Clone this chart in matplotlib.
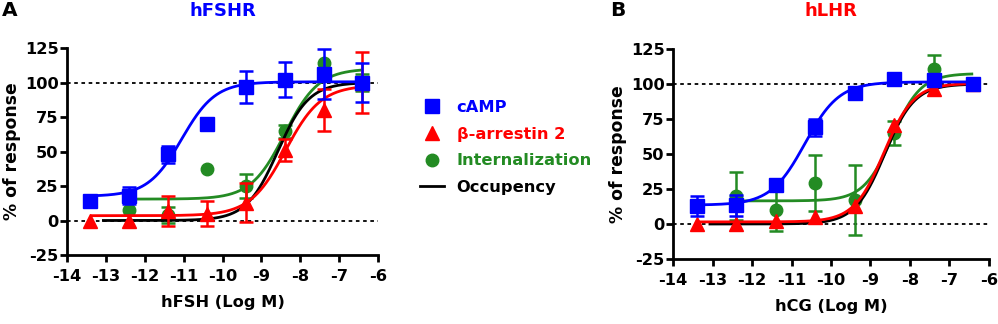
import numpy as np
import matplotlib
matplotlib.use('Agg')
from matplotlib import pyplot as plt
from matplotlib.lines import Line2D

plt.rcParams['font.family'] = ['DejaVu Sans']
plt.rcParams['font.weight'] = 'bold'
plt.rcParams['axes.labelweight'] = 'bold'
plt.rcParams['axes.unicode_minus'] = False

FS = 11.7
BLUE = '#0000FF'
RED = '#FF0000'
GREEN = '#238B23'

# concentrations (log M)
dose = [-13.4, -12.4, -11.4, -10.4, -9.4, -8.4, -7.4, -6.4]
dose_int_a = [-12.4, -11.4, -10.4, -9.4, -8.4, -7.4, -6.4]
dose_int_b = [-12.4, -11.4, -10.4, -9.4, -8.4, -7.4]

# panel A : hFSHR
camp_a = [14, 18, 48, 70, 97, 102, 106, 100]
camp_a_err = [0, 6, 6, 0, 11.5, 12.5, 18, 14]
arr_a = [0, 0, 7, 5, 13, 51, 80, 100]
arr_a_err = [0, 0, 11, 9, 14, 8, 15, 22]
int_a = [7.5, 4, 37.5, 25, 64.5, 114, 100]
int_a_err = [0, 6, 0, 9, 5, 0, 6]

# panel B : hLHR
camp_b = [13, 13.5, 28, 69, 93.5, 103.5, 103, 100]
camp_b_err = [7, 7.5, 0, 6, 4, 0, 3, 0]
arr_b = [0, 0, 2.5, 5, 13, 71, 96.5, 100]
arr_b_err = [0, 0, 0, 0, 0, 0, 0, 0]
int_b = [20, 10, 29.5, 17, 65, 111]
int_b_err = [17, 15, 20, 25, 8.5, 10]

# fitted curves: bottom, top, logEC50, hill, x start, x end
fit_a = {
    'int': (15.5, 110, -8.4, 1.0, -12.4, -6.4),
    'occ': (0, 100, -8.58, 1.08, -13.1, -6.4),
    'arr': (3.5, 98, -8.38, 0.95, -13.4, -6.4),
    'camp': (17.5, 100.5, -11.05, 1.0, -13.4, -6.4),
}
fit_b = {
    'int': (16.5, 107.5, -8.45, 1.2, -12.4, -6.4),
    'occ': (0, 100, -8.64, 1.15, -13.1, -6.4),
    'arr': (1.5, 100.5, -8.66, 1.15, -13.4, -6.4),
    'camp': (13.5, 101.5, -10.66, 1.0, -13.4, -6.4),
}

colors = {'camp': BLUE, 'arr': RED, 'int': GREEN, 'occ': 'black'}
markers = {'camp': ('s', 9.5), 'arr': ('^', 10), 'int': ('o', 9)}


def curve(ax, p, color, z):
    bottom, top, ec50, hill, x0, x1 = p
    xs = np.linspace(x0, x1, 300)
    ys = bottom + (top - bottom) / (1 + 10 ** ((ec50 - xs) * hill))
    ax.plot(xs, ys, color=color, lw=2.0, zorder=z, solid_capstyle='butt')


def points(ax, x, y, err, key, z):
    x = np.array(x); y = np.array(y); err = np.array(err)
    m = err > 0
    if m.any():
        ax.errorbar(x[m], y[m], yerr=err[m], fmt='none', ecolor=colors[key],
                    elinewidth=1.8, capsize=5, capthick=1.8, zorder=z)
    mk, ms = markers[key]
    ax.plot(x, y, mk, color=colors[key], ms=ms, mec=colors[key], zorder=z + 0.5)


def setup(ax, xlabel):
    ax.set_xlim(-14, -6)
    ax.set_ylim(-25, 125)
    ax.set_xticks(range(-14, -5))
    ax.set_yticks(range(-25, 126, 25))
    ax.axhline(0, color='black', ls=(0, (2, 2)), lw=1.3, zorder=1)
    ax.axhline(100, color='black', ls=(0, (2, 2)), lw=1.3, zorder=1)
    for s in ['top', 'right']:
        ax.spines[s].set_visible(False)
    for s in ['left', 'bottom']:
        ax.spines[s].set_linewidth(2.0)
    ax.tick_params(width=2.0, length=5, labelsize=FS, direction='out')
    ax.tick_params(axis='y', pad=1)
    ax.tick_params(axis='x', pad=5)
    ax.set_xlabel(xlabel, fontsize=FS, labelpad=8)
    ax.set_ylabel('% of response', fontsize=12.4, labelpad=3)


def panel(ax, fit, camp, camp_err, arr, arr_err, x_int, intz, int_err):
    curve(ax, fit['int'], GREEN, 2)
    points(ax, x_int, intz, int_err, 'int', 2)
    curve(ax, fit['occ'], 'black', 3)
    curve(ax, fit['arr'], RED, 4)
    points(ax, dose, arr, arr_err, 'arr', 4)
    curve(ax, fit['camp'], BLUE, 6)
    points(ax, dose, camp, camp_err, 'camp', 6)


fig = plt.figure(figsize=(9.98, 3.24), dpi=100)
W, H = 998, 324
ax1 = fig.add_axes([67 / W, 1 - 255 / H, 311 / W, 207 / H])
ax2 = fig.add_axes([673 / W, 1 - 259 / H, 316 / W, 210 / H])

panel(ax1, fit_a, camp_a, camp_a_err, arr_a, arr_a_err, dose_int_a, int_a, int_a_err)
panel(ax2, fit_b, camp_b, camp_b_err, arr_b, arr_b_err, dose_int_b, int_b, int_b_err)
setup(ax1, 'hFSH (Log M)')
setup(ax2, 'hCG (Log M)')

fig.text(222.5 / W, 1 - 11 / H, 'hFSHR', color=BLUE, fontsize=13, fontweight='bold',
         ha='center', va='center')
fig.text(831 / W, 1 - 11 / H, 'hLHR', color=RED, fontsize=13, fontweight='bold',
         ha='center', va='center')
fig.text(2 / W, 1 - 11 / H, 'A', fontsize=14.5, fontweight='bold', va='center')
fig.text(610 / W, 1 - 11 / H, 'B', fontsize=14.5, fontweight='bold', va='center')

handles = [
    Line2D([], [], ls='none', marker='s', ms=9.5, color=BLUE),
    Line2D([], [], ls='none', marker='^', ms=10, color=RED),
    Line2D([], [], ls='none', marker='o', ms=9, color=GREEN),
    Line2D([], [], color='black', lw=2.0),
]
labels = ['cAMP', '\u03b2-arrestin 2', 'Internalization', 'Occupency']
fig.legend(handles, labels, loc='upper left', bbox_to_anchor=(420 / W, 1 - 100 / H),
           frameon=False, fontsize=FS, handlelength=1.45, handletextpad=0.8,
           labelspacing=0.72, borderpad=0, borderaxespad=0,
           labelcolor=[BLUE, RED, GREEN, 'black'])

fig.savefig('out.png', dpi=100)
